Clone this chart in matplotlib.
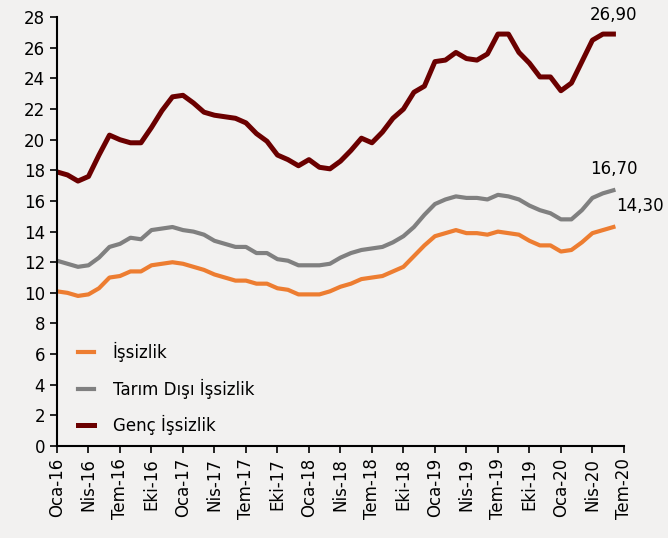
import numpy as np
from matplotlib import pyplot as plt

# monthly series, Oca-16 .. Haz-20
issizlik = [10.1, 10.0, 9.8, 9.9, 10.3, 11.0, 11.1, 11.4, 11.4, 11.8, 11.9, 12.0, 11.9, 11.7,
            11.5, 11.2, 11.0, 10.8, 10.8, 10.6, 10.6, 10.3, 10.2, 9.9, 9.9, 9.9, 10.1, 10.4,
            10.6, 10.9, 11.0, 11.1, 11.4, 11.7, 12.4, 13.1, 13.7, 13.9, 14.1, 13.9, 13.9, 13.8,
            14.0, 13.9, 13.8, 13.4, 13.1, 13.1, 12.7, 12.8, 13.3, 13.9, 14.1, 14.3]
tarim_disi = [12.1, 11.9, 11.7, 11.8, 12.3, 13.0, 13.2, 13.6, 13.5, 14.1, 14.2, 14.3, 14.1, 14.0,
              13.8, 13.4, 13.2, 13.0, 13.0, 12.6, 12.6, 12.2, 12.1, 11.8, 11.8, 11.8, 11.9, 12.3,
              12.6, 12.8, 12.9, 13.0, 13.3, 13.7, 14.3, 15.1, 15.8, 16.1, 16.3, 16.2, 16.2, 16.1,
              16.4, 16.3, 16.1, 15.7, 15.4, 15.2, 14.8, 14.8, 15.4, 16.2, 16.5, 16.7]
genc = [17.9, 17.7, 17.3, 17.6, 19.0, 20.3, 20.0, 19.8, 19.8, 20.8, 21.9, 22.8, 22.9, 22.4,
        21.8, 21.6, 21.5, 21.4, 21.1, 20.4, 19.9, 19.0, 18.7, 18.3, 18.7, 18.2, 18.1, 18.6,
        19.3, 20.1, 19.8, 20.5, 21.4, 22.0, 23.1, 23.5, 25.1, 25.2, 25.7, 25.3, 25.2, 25.6,
        26.9, 26.9, 25.7, 25.0, 24.1, 24.1, 23.2, 23.7, 25.1, 26.5, 26.9, 26.9]
tick_labels = ['Oca-16', 'Nis-16', 'Tem-16', 'Eki-16', 'Oca-17', 'Nis-17', 'Tem-17', 'Eki-17',
               'Oca-18', 'Nis-18', 'Tem-18', 'Eki-18', 'Oca-19', 'Nis-19', 'Tem-19', 'Eki-19',
               'Oca-20', 'Nis-20', 'Tem-20']

bg = '#f2f1f0'
x = np.arange(len(issizlik))

fig = plt.figure(figsize=(6.68, 5.38), dpi=100, facecolor=bg)
ax = fig.add_axes([0.0853, 0.171, 0.8487, 0.797], facecolor=bg)

ax.plot(x, issizlik, color='#ed7d31', lw=3.0, label='İşsizlik')
ax.plot(x, tarim_disi, color='#808080', lw=3.0, label='Tarım Dışı İşsizlik')
ax.plot(x, genc, color='#6b0000', lw=3.6, label='Genç İşsizlik')

ax.set_xlim(0, 54)
ax.set_ylim(0, 28)
ax.set_yticks(range(0, 29, 2))
ax.set_xticks(range(0, 55, 3))
ax.set_xticklabels(tick_labels, rotation=90)
ax.tick_params(axis='both', labelsize=12, length=5, width=1.2, color='black')
for s in ['top', 'right']:
    ax.spines[s].set_visible(False)
for s in ['left', 'bottom']:
    ax.spines[s].set_linewidth(1.5)

ax.text(x[-1], genc[-1] + 0.65, '26,90', fontsize=12, ha='center', va='bottom')
ax.text(x[-1], tarim_disi[-1] + 0.8, '16,70', fontsize=12, ha='center', va='bottom')
ax.text(x[-1] + 2.5, issizlik[-1] + 0.8, '14,30', fontsize=12, ha='center', va='bottom',
        clip_on=False)

ax.legend(loc='lower left', bbox_to_anchor=(0.01, -0.01), frameon=False, fontsize=12,
          handlelength=1.0, handletextpad=1.1, labelspacing=1.0)

fig.savefig('out.png', dpi=100, facecolor=bg)
